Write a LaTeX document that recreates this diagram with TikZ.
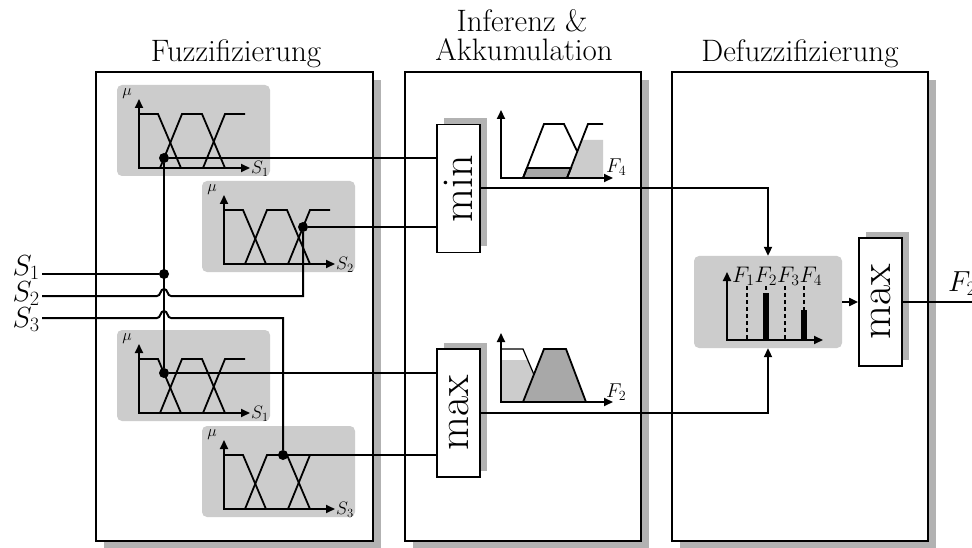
\RequirePackage{fix-cm}
\documentclass[tikz,border=0pt]{standalone}
\usetikzlibrary{arrows.meta,shadows}

\definecolor{panelgray}{gray}{0.80}
\definecolor{shadowgray}{gray}{0.70}
\definecolor{darkfill}{gray}{0.66}
\definecolor{lightfill}{gray}{0.80}
\newcommand{\sz}[1]{\fontsize{#1}{#1}\selectfont}

\tikzset{
  stage/.style={draw, line width=1.8pt, fill=white, inner sep=0pt,
    minimum height=469pt, minimum width=#1,
    drop shadow={shadow xshift=8pt, shadow yshift=-8pt, fill=shadowgray, opacity=1}},
  opbox/.style={draw, line width=1.8pt, fill=white, inner sep=0pt,
    minimum width=43pt, minimum height=128pt, font=\sz{44},
    drop shadow={shadow xshift=7pt, shadow yshift=6pt, fill=shadowgray, opacity=1}},
  title/.style={anchor=base, inner sep=0pt, font=\sz{31}},
  axis/.style={line width=2pt, <->},
  mf/.style={line width=1.8pt, line join=miter},
  wire/.style={line width=2pt},
  thinwire/.style={line width=1.2pt},
  dot/.style={circle, fill=black, inner sep=0pt, minimum size=10pt},
  lbl/.style={inner sep=1pt, font=\sz{18}},
  plotlbl/.style={inner sep=0pt, anchor=base west, font=\sz{20}},
  biglbl/.style={inner sep=0pt, font=\sz{29}},
  pics/mfpanel/.style={code={
    \fill[panelgray, rounded corners=5pt] (-22,-83) rectangle (131,8);
    \draw[mf] (0,-54) -- (19,-54) -- (42,0);
    \draw[mf] (21,0) -- (43,-54) -- (63,-54) -- (86,0);
    \draw[mf] (64,0) -- (86,-54) -- (106,-54);
    \draw[axis] (0,-69) -- (0,0) -- (111,0);
    \node[lbl, font=\sz{16}] at (-12,-74) {$\mu$};
    \node[lbl, anchor=west] at (111,1) {$#1$};
  }}
}

\begin{document}
\begin{tikzpicture}[x=1pt, y=-1pt, >={Triangle[length=9pt,width=8pt]}]
\useasboundingbox (0,0) rectangle (972,548);

% the three stages
\node[stage=277pt] (fuzz)   at (234.5,306.5) {};
\node[stage=236pt] (infer)  at (523,306.5) {};
\node[stage=256pt] (defuzz) at (800,306.5) {};

\node[title] at (236,62) {Fuzzifizierung};
\node[title] at (522,32) {Inferenz \&};
\node[title] at (524,61) {Akkumulation};
\node[title] at (800,62) {Defuzzifizierung};

% membership functions of the inputs
\pic at (139,168) {mfpanel=S_1};
\pic at (224,264) {mfpanel=S_2};
\pic at (139,413) {mfpanel=S_1};
\pic at (224,509) {mfpanel=S_3};

% rule operators
\node[opbox] (minbox) at (458.5,188.5) {\rotatebox{90}{min}};
\node[opbox] (maxbox) at (458.5,413) {\rotatebox{90}{max}};

% clipped output set F4
\fill[lightfill] (567,178) -- (582,140) -- (603,140) -- (603,178) -- cycle;
\filldraw[fill=darkfill, mf] (523,178) -- (527,168) -- (571,168) -- (567,178) -- cycle;
\draw[mf] (523,178) -- (544,124) -- (564,124) -- (577,151);
\draw[mf] (567,178) -- (588,124) -- (603,124);
\draw[axis] (501,110) -- (501,178) -- (613,178);
\node[plotlbl] (f4lbl) at (606,173) {$F_4$};

% accumulated output set F2
\fill[lightfill] (501,402) -- (501,360) -- (528,360) -- (545,402) -- cycle;
\draw[line width=1.2pt] (501,349) -- (523,349) -- (535,377);
\filldraw[fill=darkfill, mf] (523,402) -- (544,349) -- (566,349) -- (586,402) -- cycle;
\draw[axis] (501,333) -- (501,402) -- (613,402);
\node[plotlbl] (f2lbl) at (606,397) {$F_2$};

% singleton result and final max
\node[fill=panelgray, rounded corners=5pt, minimum width=148pt, minimum height=92pt, inner sep=0pt] (dpanel) at (768,302) {};
\foreach \xx in {747,766,785,804}
  \draw[line width=1.6pt, dash pattern=on 4pt off 3pt] (\xx,286) -- (\xx,340);
\fill (763,293) rectangle (769,340);
\fill (801,310) rectangle (807,340);
\draw[axis] (727,272) -- (727,340) -- (823,340);
\node[inner sep=0pt, anchor=base west, font=\sz{22.5}] (flabels) at (732,282) {$F_1F_2F_3F_4$};
\node[opbox] (dmax) at (880.5,302) {\rotatebox{90}{max}};

% inputs and junctions
\node[biglbl, anchor=base east] (s1) at (40,275) {$S_1$};
\node[biglbl, anchor=base east] (s2) at (40,301) {$S_2$};
\node[biglbl, anchor=base east] (s3) at (40,327) {$S_3$};
\coordinate (in1) at (42,274);
\coordinate (in2) at (42,296);
\coordinate (in3) at (42,318);

\node[dot] (d1) at (164,158) {};
\node[dot] (d2) at (303,227) {};
\node[dot] (d3) at (164,373) {};
\node[dot] (d4) at (283,455) {};
\node[dot] (j1) at (164,274) {};

\draw[wire] (d1) -- (d3);
\draw[wire] (in1) -- (j1);
\draw[wire] (in2) -- (157,296) .. controls (161,296) and (160,289) .. (164,289)
  .. controls (168,289) and (167,296) .. (171,296) -- (in2 -| d2) -- (d2);
\draw[wire] (in3) -- (157,318) .. controls (161,318) and (160,311) .. (164,311)
  .. controls (168,311) and (167,318) .. (171,318) -- (in3 -| d4) -- (d4);

% fuzzified values to the operators
\draw[thinwire] (d1) -- (d1 -| minbox.west);
\draw[thinwire] (d2) -- (d2 -| minbox.west);
\draw[thinwire] (d3) -- (d3 -| maxbox.west);
\draw[thinwire] (d4) -- (d4 -| maxbox.west);

% operator outputs
\draw[wire, ->] (minbox.east) -| (dpanel.north);
\draw[wire, ->] (maxbox.east) -| (dpanel.south);
\draw[wire, ->] (dpanel.east) -- (dmax.west);
\coordinate (out) at (972,302);
\draw[wire] (dmax.east) -- (out);
\node[biglbl, anchor=base west] (outlbl) at (948,291) {$F_2$};
\end{tikzpicture}
\end{document}
